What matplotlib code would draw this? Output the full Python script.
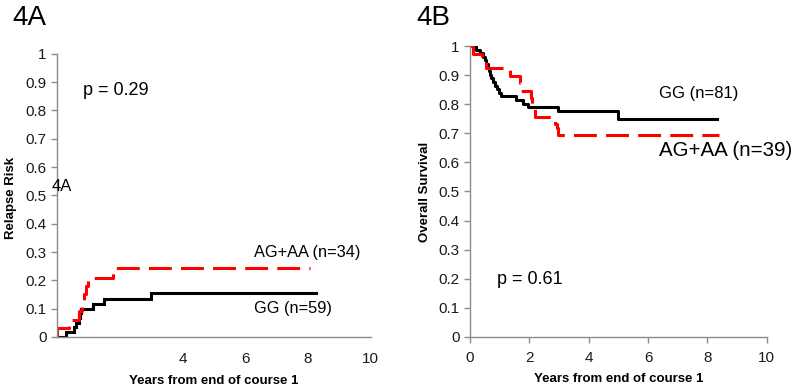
import matplotlib
matplotlib.use("Agg")
import matplotlib.pyplot as plt

plt.rcParams['font.family'] = ['Liberation Sans', 'DejaVu Sans']

# Panel 4A: cumulative relapse risk (step times in years, values)
a_gg_t = [0, 0.3, 0.55, 0.62, 0.7, 0.75, 0.78, 1.15, 1.5, 3.0, 8.27]
a_gg_y = [0, 0.017, 0.034, 0.05, 0.068, 0.085, 0.10, 0.118, 0.135, 0.155, 0.155]
a_ag_t = [0, 0.0, 0.38, 0.72, 0.8, 0.86, 0.92, 0.98, 1.8, 8.05]
a_ag_y = [0, 0.03, 0.06, 0.09, 0.12, 0.15, 0.18, 0.21, 0.245, 0.245]

# Panel 4B: overall survival
b_gg_t = [0, 0.2, 0.35, 0.45, 0.5, 0.55, 0.6, 0.63, 0.67, 0.72, 0.78, 0.85, 0.9,
          0.98, 1.05, 1.55, 1.8, 1.95, 2.95, 5.0, 8.33]
b_gg_y = [1.0, 0.988, 0.975, 0.963, 0.951, 0.938, 0.926, 0.914, 0.901, 0.889,
          0.877, 0.864, 0.852, 0.840, 0.827, 0.815, 0.802, 0.790, 0.778, 0.748, 0.748]
b_ag_t = [0, 0.1, 0.4, 0.55, 1.35, 1.68, 1.72, 2.05, 2.1, 2.18, 2.85, 2.92, 2.97, 8.4]
b_ag_y = [1.0, 0.974, 0.949, 0.923, 0.897, 0.872, 0.846, 0.821, 0.795, 0.756,
          0.731, 0.718, 0.695, 0.695]

x_ticks = [0, 2, 4, 6, 8, 10]
a_xtick_labels = ['', '', '4', '6', '8', '10']
b_xtick_labels = ['0', '2', '4', '6', '8', '10']
y_ticks = [0, 0.1, 0.2, 0.3, 0.4, 0.5, 0.6, 0.7, 0.8, 0.9, 1]
y_tick_labels = ['0', '0.1', '0.2', '0.3', '0.4', '0.5', '0.6', '0.7', '0.8', '0.9', '1']

RED = '#ff0000'
AXC = '#8c8c8c'

fig = plt.figure(figsize=(8, 3.9), dpi=100)
axA = fig.add_axes([0.071, 0.136, 0.3925, 0.726])
axB = fig.add_axes([0.5875, 0.136, 0.371, 0.746])

for ax in (axA, axB):
    ax.set_xlim(0, 10)
    ax.set_ylim(0, 1)
    for s in ('top', 'right'):
        ax.spines[s].set_visible(False)
    for s in ('left', 'bottom'):
        ax.spines[s].set_color(AXC)
        ax.spines[s].set_linewidth(1.0)
    ax.set_yticks(y_ticks)
    ax.set_yticklabels(y_tick_labels)
    ax.tick_params(axis='both', colors=AXC, labelcolor='#1a1a1a', labelsize=11,
                   length=4, width=1.0)
    ax.set_xlabel('Years from end of course 1', fontsize=9.5, fontweight='bold', labelpad=6)

# Panel A
axA.step(a_gg_t, a_gg_y, where='post', color='black', lw=2.2, solid_joinstyle='miter')
axA.step(a_ag_t, a_ag_y, where='post', color=RED, lw=2.2, dashes=(7.5, 3))
axA.set_xticks(x_ticks)
axA.set_xticklabels(a_xtick_labels)
axA.tick_params(axis='x', length=0, pad=11)
axA.set_ylabel('Relapse Risk', fontsize=9.5, fontweight='bold', va='center')
axA.yaxis.set_label_coords(-0.146, 0.49)
axA.text(0.83, 0.87, 'p = 0.29', fontsize=13, va='center')
axA.text(6.27, 0.30, 'AG+AA (n=34)', fontsize=11.8, va='center')
axA.text(6.27, 0.099, 'GG (n=59)', fontsize=11.8, va='center')
axA.text(-0.15, 0.53, '4A', fontsize=12, va='center')

# Panel B
axB.step(b_gg_t, b_gg_y, where='post', color='black', lw=2.2)
axB.step(b_ag_t, b_ag_y, where='post', color=RED, lw=2.2, dashes=(7.5, 3))
axB.set_xticks(x_ticks)
axB.set_xticklabels(b_xtick_labels)
axB.tick_params(axis='x', pad=6)
axB.set_ylabel('Overall Survival', fontsize=9.5, fontweight='bold', va='center')
axB.yaxis.set_label_coords(-0.152, 0.5)
axB.text(0.9, 0.196, 'p = 0.61', fontsize=13, va='center')
axB.text(6.36, 0.838, 'GG (n=81)', fontsize=12, va='center')
axB.text(6.36, 0.64, 'AG+AA (n=39)', fontsize=14.8, va='center')

fig.text(0.015, 0.955, '4A', fontsize=20, va='center')
fig.text(0.52, 0.955, '4B', fontsize=20, va='center')

fig.savefig('out.png', dpi=100)
